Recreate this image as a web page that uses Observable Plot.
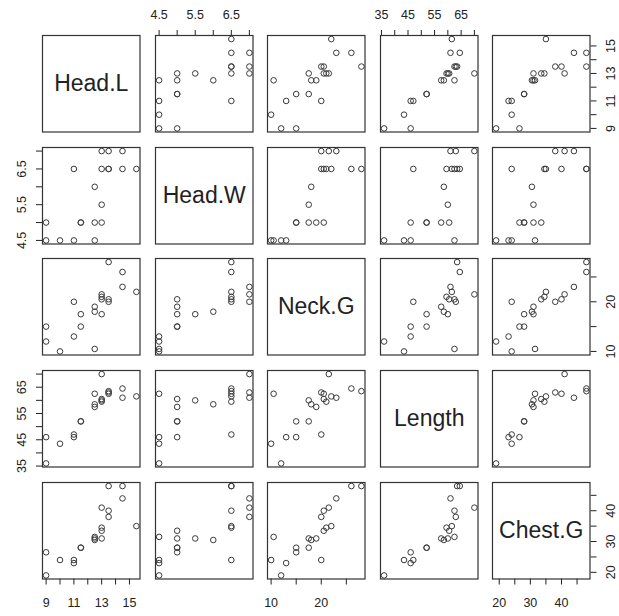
<!DOCTYPE html>
<html>
<head>
<meta charset="utf-8">
<script src="https://cdn.jsdelivr.net/npm/d3@7"></script>
<script src="https://cdn.jsdelivr.net/npm/@observablehq/plot@0.6"></script>
<style>
  body { margin: 0; background: #fff; }
  #chart { position: relative; width: 619px; height: 616px; overflow: hidden; background: #fff; }
  #chart svg { position: absolute; overflow: visible; }
</style>
</head>
<body>
<div id="chart"></div>
<script>
const varNames = ["Head.L", "Head.W", "Neck.G", "Length", "Chest.G"];
const headL  = [15.5, 14.5, 14.5, 13.5, 13.5, 13.5, 13, 13, 13, 13, 12.5, 12.5, 12.5, 11.5, 11.5, 11, 11, 10, 9, 9];
const headW  = [6.5, 6.5, 7, 6.5, 6.5, 7, 7, 6.5, 5, 5.5, 4.5, 5, 6, 5, 5, 6.5, 4.5, 4.5, 4.5, 5];
const neckG  = [22, 26, 23, 28, 20.5, 20, 21.5, 21, 20.5, 17.5, 10.5, 19, 18, 17.5, 15, 20, 13, 10, 12, 15];
const lengthV = [61.5, 64.5, 61, 63.5, 62.5, 63, 70, 59.5, 60.5, 60, 62.5, 57.5, 58.5, 52, 52, 47, 46, 43.5, 36, 46];
const chestG = [35, 48, 44, 48, 40, 38, 41, 34.5, 33.5, 31, 31.5, 31, 30.5, 28, 28, 24, 23, 24, 19, 26.5];

// axis ticks and which of them carry a label
const tickValues = [
  [9, 10, 11, 12, 13, 14, 15],
  [4.5, 5, 5.5, 6, 6.5, 7],
  [10, 15, 20, 25],
  [35, 40, 45, 50, 55, 60, 65, 70],
  [20, 25, 30, 35, 40, 45]
];
const tickLabels = [
  [9, 11, 13, 15],
  [4.5, 5.5, 6.5],
  [10, 20],
  [35, 45, 55, 65],
  [20, 30, 40]
];

// ---- layout ----
const vals = [headL, headW, neckG, lengthV, chestG];
const n = vals.length;
const idx = d3.range(headL.length);
const left0 = 42, top0 = 35, pitchX = 112.5, pitchY = 111.7, pw = 97.5, ph = 96.5, M = 40;
const font = "'Liberation Sans', Arial, Helvetica, sans-serif";
const ink = "#222";

function ext(v) {
  const [a, b] = d3.extent(v);
  const r = b - a;
  return [a - 0.04 * r, b + 0.04 * r];
}
function fmt(k) {
  const s = new Set(tickLabels[k]);
  return d => (s.has(d) ? String(d) : "");
}

const chart = document.getElementById("chart");

for (let i = 0; i < n; i++) {       // row -> y variable
  for (let j = 0; j < n; j++) {     // column -> x variable
    const marks = [];
    if (i === j) {
      marks.push(Plot.text([varNames[i]], {frameAnchor: "middle", text: d => d, fontSize: 23, fill: ink}));
    } else {
      marks.push(Plot.dot(idx, {
        x: d => vals[j][d], y: d => vals[i][d],
        r: 2.8, stroke: "#3a3a3a", strokeWidth: 1, fill: "none"
      }));
    }
    // top axis: first row, odd columns
    if (i === 0 && j % 2 === 1) {
      marks.push(Plot.axisX({anchor: "top", ticks: tickValues[j], tickSize: 6, tickPadding: 11,
        tickFormat: fmt(j), color: ink, fontSize: 12.5}));
    }
    // bottom axis: last row, even columns
    if (i === n - 1 && j % 2 === 0) {
      marks.push(Plot.axisX({anchor: "bottom", ticks: tickValues[j], tickSize: 6, tickPadding: 13,
        tickFormat: fmt(j), color: ink, fontSize: 12.5}));
    }
    // left axis: first column, odd rows
    if (j === 0 && i % 2 === 1) {
      marks.push(Plot.axisY({anchor: "left", ticks: tickValues[i], tickSize: 6, tickFormat: () => "", color: ink}));
      marks.push(Plot.text(tickLabels[i], {y: d => d, text: d => String(d), frameAnchor: "left", dx: -20.5,
        rotate: -90, textAnchor: "middle", lineAnchor: "middle", fontSize: 12.5, fill: ink}));
    }
    // right axis: last column, even rows
    if (j === n - 1 && i % 2 === 0) {
      marks.push(Plot.axisY({anchor: "right", ticks: tickValues[i], tickSize: 6, tickFormat: () => "", color: ink}));
      marks.push(Plot.text(tickLabels[i], {y: d => d, text: d => String(d), frameAnchor: "right", dx: 20.5,
        rotate: -90, textAnchor: "middle", lineAnchor: "middle", fontSize: 12.5, fill: ink}));
    }
    marks.push(Plot.frame({stroke: "#333", strokeWidth: 1.2}));

    const svg = Plot.plot({
      width: pw + 2 * M,
      height: ph + 2 * M,
      marginLeft: M, marginRight: M, marginTop: M, marginBottom: M,
      x: {domain: ext(vals[j]), axis: null},
      y: {domain: ext(vals[i]), axis: null},
      style: {background: "transparent", overflow: "visible", fontFamily: font, fontSize: "12.5px", color: ink},
      marks
    });
    svg.style.left = (left0 + j * pitchX - M) + "px";
    svg.style.top = (top0 + i * pitchY - M) + "px";
    chart.appendChild(svg);
  }
}
</script>
</body>
</html>
